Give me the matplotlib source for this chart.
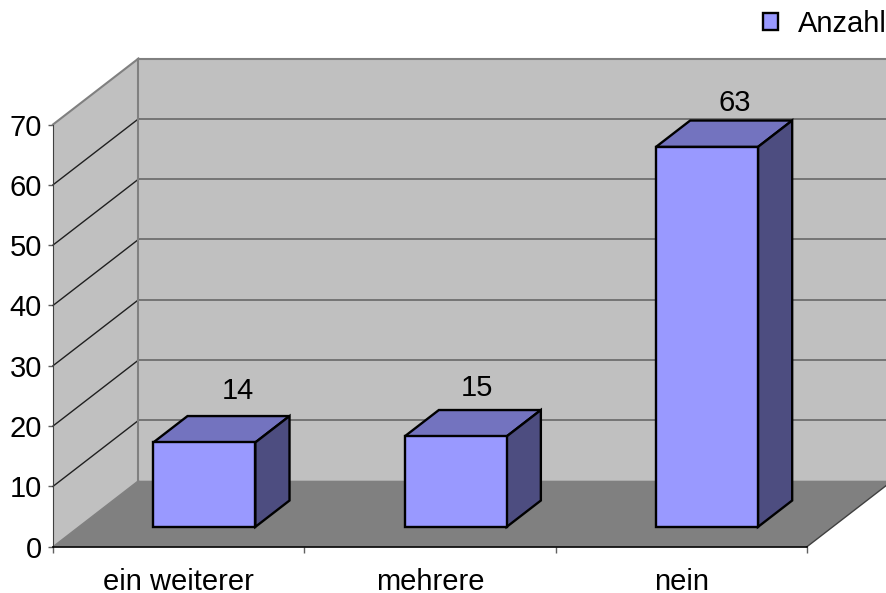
import matplotlib
matplotlib.use("Agg")
import matplotlib.pyplot as plt
from matplotlib.patches import Patch

plt.rcParams["font.family"] = ["Liberation Sans", "DejaVu Sans"]

# Daten
categories = ["ein weiterer", "mehrere", "nein"]
values = [14, 15, 63]
y_ticks = [0, 10, 20, 30, 40, 50, 60, 70]
series_name = "Anzahl"

W, H = 887, 593
fig = plt.figure(figsize=(W / 100, H / 100), dpi=100)
# Vorderkante der Grafik in Pixeln
left, right, bottom, top = 53, 807, 546.7, 124.5
ax = fig.add_axes([left / W, 1 - bottom / H, (right - left) / W, (bottom - top) / H])
ax.set_xlim(0, 3)
ax.set_ylim(0, 70)

px_x = 3 / (right - left)
px_y = 70 / (bottom - top)
depth_x = 85.5 * px_x
depth_y = 66 * px_y
font_size = 21


def proj(x, v, d):
    # schraege Projektion, d = 0 vorne, d = 1 hinten
    return x + d * depth_x, v + d * depth_y


def face(points, color, z, edge="none", lw=0):
    xy = [proj(*p) for p in points]
    ax.fill([p[0] for p in xy], [p[1] for p in xy], facecolor=color, edgecolor=edge,
            linewidth=lw, zorder=z, clip_on=False, joinstyle="miter")


# Waende und Boden
y_max = y_ticks[-1]
face([(0, 0, 1), (3, 0, 1), (3, y_max, 1), (0, y_max, 1)], "#C0C0C0", 1)
face([(0, 0, 0), (0, 0, 1), (0, y_max, 1), (0, y_max, 0)], "#C0C0C0", 1)
face([(0, 0, 0), (3, 0, 0), (3, 0, 1), (0, 0, 1)], "#808080", 2)

# Gitterlinien
for v in y_ticks[1:]:
    x0, y0 = proj(0, v, 0)
    x1, y1 = proj(0, v, 1)
    x2, y2 = proj(3, v, 1)
    color_side = "#808080" if v == y_max else "#202020"
    ax.plot([x0, x1], [y0, y1], color=color_side, lw=1.0 if v != y_max else 1.5, zorder=3, clip_on=False)
    ax.plot([x1, x2], [y1, y2], color="#808080" if v == y_max else "#606060",
            lw=1.5 if v == y_max else 1.1, zorder=3, clip_on=False)

# Kanten der Waende
bx0, by0 = proj(0, 0, 1)
bx1, by1 = proj(0, y_max, 1)
ax.plot([bx0, bx1], [by0, by1], color="#808080", lw=1.5, zorder=3, clip_on=False)
ax.plot(*zip(proj(0, 0, 0), proj(0, 0, 1)), color="#808080", lw=1, zorder=3, clip_on=False)
ax.plot(*zip(proj(3, 0, 0), proj(3, 0, 1)), color="#404040", lw=1, zorder=3, clip_on=False)

# Saeulen
bar_width = 102 * px_x
d0, d1 = 0.30, 0.70
label_dx = [-1, -13, -6]
label_dy = [25, 22, 18]
for i, v in enumerate(values):
    x0 = i + 0.5 - bar_width / 2
    x1 = x0 + bar_width
    face([(x0, v, d0), (x1, v, d0), (x1, v, d1), (x0, v, d1)], "#7373BF", 5, "black", 1.7)
    face([(x1, 0, d0), (x1, 0, d1), (x1, v, d1), (x1, v, d0)], "#4D4D80", 5, "black", 1.7)
    face([(x0, 0, d0), (x1, 0, d0), (x1, v, d0), (x0, v, d0)], "#9999FF", 6, "black", 1.7)
    lx, ly = proj(i + 0.5, v, d1)
    ax.annotate(str(v), (lx, ly), xytext=(label_dx[i] * 0.72, label_dy[i] * 0.72), textcoords="offset points",
                ha="center", va="center", fontsize=font_size, color="black", zorder=7,
                annotation_clip=False)

# Achsen
ax.set_xticks([0, 1, 2, 3])
ax.set_xticklabels([])
ax.set_xticks([0.5, 1.5, 2.5], minor=True)
ax.set_xticklabels(categories, minor=True, fontsize=font_size)
ax.tick_params(axis="x", which="major", length=4.5, width=1, color="#606060")
ax.tick_params(axis="x", which="minor", length=0, pad=15)
ax.set_yticks(y_ticks)
ax.tick_params(axis="y", length=3.5, width=1, color="#606060", labelsize=font_size, pad=4.5)
ax.patch.set_visible(False)
for s in ["top", "right"]:
    ax.spines[s].set_visible(False)
ax.spines["left"].set_color("#404040")
ax.spines["left"].set_zorder(4)
ax.spines["bottom"].set_color("black")
ax.spines["bottom"].set_linewidth(1.2)
ax.spines["bottom"].set_zorder(4)

# Legende
handle = Patch(facecolor="#9999FF", edgecolor="black", linewidth=1.7, label=series_name)
fig.legend(handles=[handle], loc="upper right", bbox_to_anchor=(1.0, 0.983), frameon=False,
           fontsize=font_size, handlelength=0.5, handleheight=0.5, handletextpad=0.7,
           borderaxespad=0, borderpad=0)

fig.savefig("out.png", dpi=100)
